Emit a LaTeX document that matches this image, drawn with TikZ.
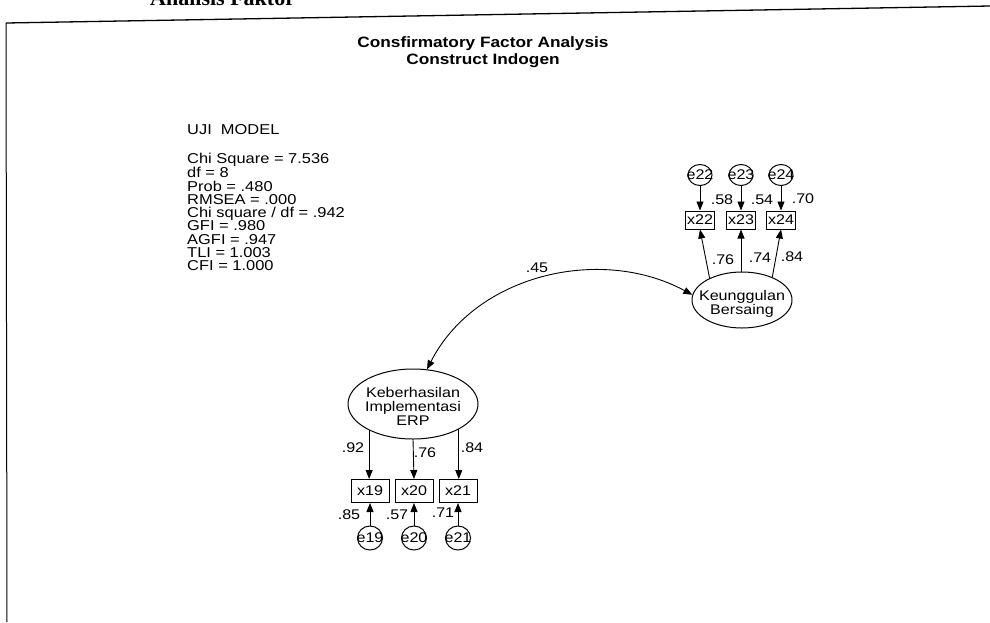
\documentclass[tikz,border=0pt]{standalone}
\usepackage{fontspec}
\setmainfont{Liberation Sans}
\newfontfamily\amos[FakeStretch=1.15]{Liberation Sans}
\newfontfamily\hdr{Liberation Serif}
\usetikzlibrary{arrows.meta,shapes.geometric}
\begin{document}
\begin{tikzpicture}[x=1pt,y=-1pt,
  every node/.style={font=\amos\fontsize{14}{14}\selectfont, inner sep=0pt},
  latent/.style={draw, ellipse, line width=1pt, inner sep=0pt},
  obs/.style={draw, rectangle, line width=1pt},
  obsup/.style={obs, minimum width=29pt, minimum height=18pt},
  obslo/.style={obs, minimum width=38pt, minimum height=23pt},
  err/.style={draw, ellipse, line width=1pt, inner sep=0pt, minimum width=24pt, minimum height=21pt},
  errlo/.style={err, minimum width=25pt, minimum height=24pt},
  arr/.style={line width=0.9pt, -{Triangle[length=9pt,width=7pt]}},
  lbl/.style={font=\amos\fontsize{14}{14}\selectfont},
  stat/.style={font=\amos\fontsize{14.3}{13.3}\selectfont, align=left},
]
\useasboundingbox (0,0) rectangle (990,622);

% page header (cut by the scan) and frame
\begin{scope}
\clip (0,0) rectangle (990,622);
\node[font=\hdr\bfseries\fontsize{22}{22}\selectfont, anchor=base west] (hd) at (150,5) {Analisis Faktor};
\end{scope}
\draw[line width=1.3pt] (6,23) -- (990,6);
\draw[line width=1pt] (6,23) -- (7,622);

% title
\node[font=\amos\bfseries\fontsize{15}{17}\selectfont, align=center] (title) at (483,52)
  {Consfirmatory Factor Analysis\\Construct Indogen};

% fit statistics
\node[stat, anchor=west] (uji) at (187,130) {UJI\ \ MODEL};
\node[stat, anchor=west] (stats) at (187,212) {Chi Square = 7.536\\df = 8\\Prob = .480\\RMSEA = .000\\Chi square / df = .942\\GFI = .980\\AGFI = .947\\TLI = 1.003\\CFI = 1.000};

% upper construct
\node[latent, minimum width=100pt, minimum height=56pt] (ku) at (742,300) {};
\node[align=center] (kutxt) at (742,304) {Keunggulan\\Bersaing};
\node[obsup] (x22) at (700,220) {x22};
\node[obsup] (x23) at (741,220) {x23};
\node[obsup] (x24) at (781,220) {x24};
\node[err] (e22) at (700,175) {};
\node[err] (e23) at (741,175) {};
\node[err] (e24) at (781,175) {};
\node (t22) at (e22) {e22};
\node (t23) at (e23) {e23};
\node (t24) at (e24) {e24};
\draw[arr] (e22) -- (x22);
\draw[arr] (e23) -- (x23);
\draw[arr] (e24) -- (x24);
\draw[arr] (ku.146) -- (x22.south);
\draw[arr] (ku.north -| x23.south) -- (x23.south);
\draw[arr] (ku.37) -- (x24.south);
\node[lbl] (l58) at (722,200) {.58};
\node[lbl] (l54) at (762,200) {.54};
\node[lbl] (l70) at (803,199) {.70};
\node[lbl] (l76u) at (723,260) {.76};
\node[lbl] (l74) at (760,258) {.74};
\node[lbl] (l84u) at (792,257) {.84};

% lower construct
\node[latent, minimum width=130pt, minimum height=70pt] (kb) at (413,404) {};
\node[align=center] (kbtxt) at (413,406) {Keberhasilan\\Implementasi\\ERP};
\node[obslo] (x19) at (370,491) {x19};
\node[obslo] (x20) at (414,491) {x20};
\node[obslo] (x21) at (458,491) {x21};
\node[errlo] (e19) at (370,538) {};
\node[errlo] (e20) at (414,538) {};
\node[errlo] (e21) at (458,538) {};
\node (t19) at (e19) {e19};
\node (t20) at (e20) {e20};
\node (t21) at (e21) {e21};
\draw[arr] (kb.211) -- (kb.211 |- x19.north);
\draw[arr] (kb.south) -- (x20.north);
\draw[arr] (kb.331) -- (kb.331 |- x21.north);
\draw[arr] (e19) -- (x19);
\draw[arr] (e20) -- (x20);
\draw[arr] (e21) -- (x21);
\node[lbl] (l92) at (353,448) {.92};
\node[lbl] (l76l) at (425,453) {.76};
\node[lbl] (l84l) at (472,448) {.84};
\node[lbl] (l85) at (349,515) {.85};
\node[lbl] (l57) at (397,515) {.57};
\node[lbl] (l71) at (443,513) {.71};

% covariance
\draw[line width=0.9pt, {Triangle[length=9pt,width=7pt]}-{Triangle[length=9pt,width=7pt]}]
  (kb.68) .. controls (475,275) and (600,245) .. (ku.174);
\node[lbl] (l45) at (537,268) {.45};
\end{tikzpicture}
\end{document}
